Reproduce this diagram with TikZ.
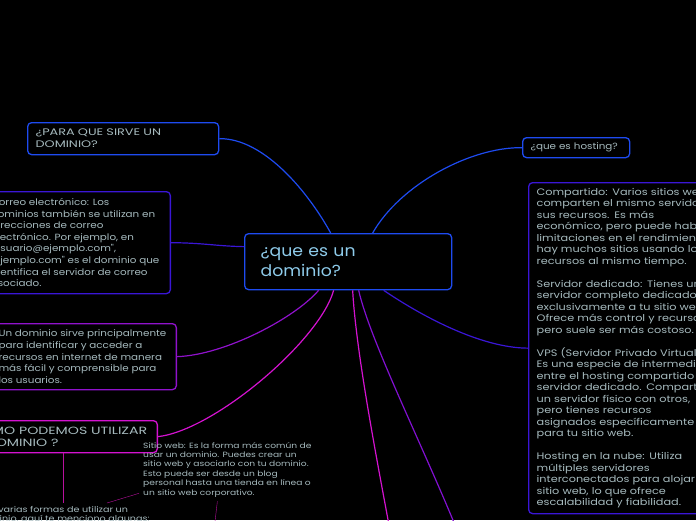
\documentclass[tikz,border=0pt]{standalone}
\usepackage{fontspec}
\setmainfont{Poppins}
\newfontfamily\fontcentre{Poppins}[FakeStretch=1.08]
\newfontfamily\fontmitja{Poppins}[FakeStretch=1.15]
\newfontfamily\fontample{Poppins}[FakeStretch=1.2]
\newfontfamily\fontcaps{Poppins}[FakeStretch=1.35]
\usepackage{tikz}

\definecolor{blau}{HTML}{1E4BF0}
\definecolor{blaufosc}{HTML}{3A16D6}
\definecolor{lila}{HTML}{9012CC}
\definecolor{magenta}{HTML}{D412D0}
\definecolor{rosa}{HTML}{B8109E}
\definecolor{textgris}{HTML}{A6BABE}
\definecolor{textblau}{HTML}{8ECBEA}

\tikzset{
  caixa/.style={draw, rounded corners=4pt, line width=1.3pt, fill=black,
    text=textgris, align=left, inner xsep=8pt, inner ysep=3pt,
    font=\fontmitja\fontsize{9}{11.6}\selectfont},
  solt/.style={text=textgris, align=left, inner sep=3pt,
    font=\fontample\fontsize{7.6}{9.4}\selectfont},
  branca/.style={line width=1.2pt}
}

\begin{document}
\begin{tikzpicture}[x=1pt, y=-1pt]
  \useasboundingbox (0,0) rectangle (696,520);
  \fill[black] (0,0) rectangle (696,520);
  \clip (0,0) rectangle (696,520);

  % Node central
  \node[caixa, draw=blau, anchor=north west, inner xsep=16pt, text width=175pt,
        minimum height=56pt, text=textblau, font=\fontcentre\fontsize{16}{20}\selectfont]
        (dominio) at (244,233) {¿que es un\\dominio?};

  % Branques de dalt
  \node[caixa, draw=blau, anchor=north west, text width=175pt, minimum height=32pt,
        font=\fontcaps\fontsize{9.5}{12}\selectfont]
        (paraque) at (27,122) {¿PARA QUE SIRVE UN\\DOMINIO?};
  \node[caixa, draw=blau, anchor=north west, text width=91pt, minimum height=20pt]
        (hosting) at (522,137) {¿que es hosting?};

  % Tipus de hosting
  \node[caixa, draw=blaufosc, anchor=north west, text width=230pt, minimum height=331pt,
        font=\fontample\fontsize{9.4}{11.5}\selectfont]
        (tipus) at (528,182) {Compartido: Varios sitios web\\
    comparten el mismo servidor y\\
    sus recursos. Es más\\
    económico, pero puede haber\\
    limitaciones en el rendimiento si\\
    hay muchos sitios usando los\\
    recursos al mismo tiempo.\\[11.5pt]
    Servidor dedicado: Tienes un\\
    servidor completo dedicado\\
    exclusivamente a tu sitio web.\\
    Ofrece más control y recursos,\\
    pero suele ser más costoso.\\[11.5pt]
    VPS (Servidor Privado Virtual):\\
    Es una especie de intermedio\\
    entre el hosting compartido y el\\
    servidor dedicado. Compartes\\
    un servidor físico con otros,\\
    pero tienes recursos\\
    asignados específicamente\\
    para tu sitio web.\\[11.5pt]
    Hosting en la nube: Utiliza\\
    múltiples servidores\\
    interconectados para alojar un\\
    sitio web, lo que ofrece\\
    escalabilidad y fiabilidad.};

  % Branques de l'esquerra
  \node[caixa, draw=blaufosc, anchor=north east, minimum height=102pt, inner xsep=11pt]
        (correo) at (171,191) {Correo electrónico: Los\\
    dominios también se utilizan en\\
    direcciones de correo\\
    electrónico. Por ejemplo, en\\
    "usuario@ejemplo.com",\\
    "ejemplo.com" es el dominio que\\
    identifica el servidor de correo\\
    asociado.};
  \node[caixa, draw=lila, anchor=north east, minimum height=66pt, inner xsep=10pt]
        (sirve) at (177,323) {Un dominio sirve principalmente\\
    para identificar y acceder a\\
    recursos en internet de manera\\
    más fácil y comprensible para\\
    los usuarios.};
  \node[caixa, draw=magenta, anchor=north east, minimum height=32pt, inner xsep=10pt,
        font=\fontcaps\fontsize{10.5}{12}\selectfont]
        (como) at (158,420) {¿COMO PODEMOS UTILIZAR\\UN DOMINIO ?};

  % Textos sense caixa
  \node[solt, anchor=north west, font=\fontample\fontsize{8}{9.6}\selectfont]
        (formas) at (-26,503) {Hay varias formas de utilizar un\\dominio, aquí te menciono algunas:};
  \node[solt, anchor=north west, inner sep=4pt] (sitio) at (139,438) {Sitio web: Es la forma más común de\\
    usar un dominio. Puedes crear un\\
    sitio web y asociarlo con tu dominio.\\
    Esto puede ser desde un blog\\
    personal hasta una tienda en línea o\\
    un sitio web corporativo.};

  \coordinate (baix1) at (389,525);
  \coordinate (baix2) at (455,525);
  \coordinate (baix3) at (214,530);

  % Connectors
  \draw[branca, blau] (paraque.east) .. controls (265,138) and (310,195) .. ([xshift=-17.5pt]dominio.north);
  \draw[branca, blau] (hosting.west) .. controls (470,147) and (400,185) .. ([xshift=24.5pt]dominio.north);
  \draw[branca, blaufosc] (correo.east) .. controls (205,243) and (215,246) .. ([yshift=15pt]dominio.west);
  \draw[branca, lila] (sirve.east) .. controls (225,355) and (295,318) .. ([xshift=-29.5pt]dominio.south);
  \draw[branca, magenta] (como.east) .. controls (215,430) and (320,340) .. ([xshift=-14.5pt]dominio.south);
  \draw[branca, magenta] ([xshift=4.5pt]dominio.south) .. controls (356,350) and (375,450) .. (baix1);
  \draw[branca, lila!90!blue] ([xshift=10.5pt]dominio.south) .. controls (370,340) and (420,440) .. (baix2);
  \draw[branca, blaufosc] ([xshift=35.5pt]dominio.south) .. controls (420,315) and (480,348) .. (tipus.west);
  \draw[rosa] ([xshift=-95pt]como.south east) -- ([xshift=-95pt]como.south east |- formas.north);
  \draw[rosa] ([xshift=133pt]formas.north west) -- ([yshift=8pt]sitio.south west);
  \draw[rosa] ([xshift=-10pt]sitio.south) -- (baix3);
\end{tikzpicture}
\end{document}
